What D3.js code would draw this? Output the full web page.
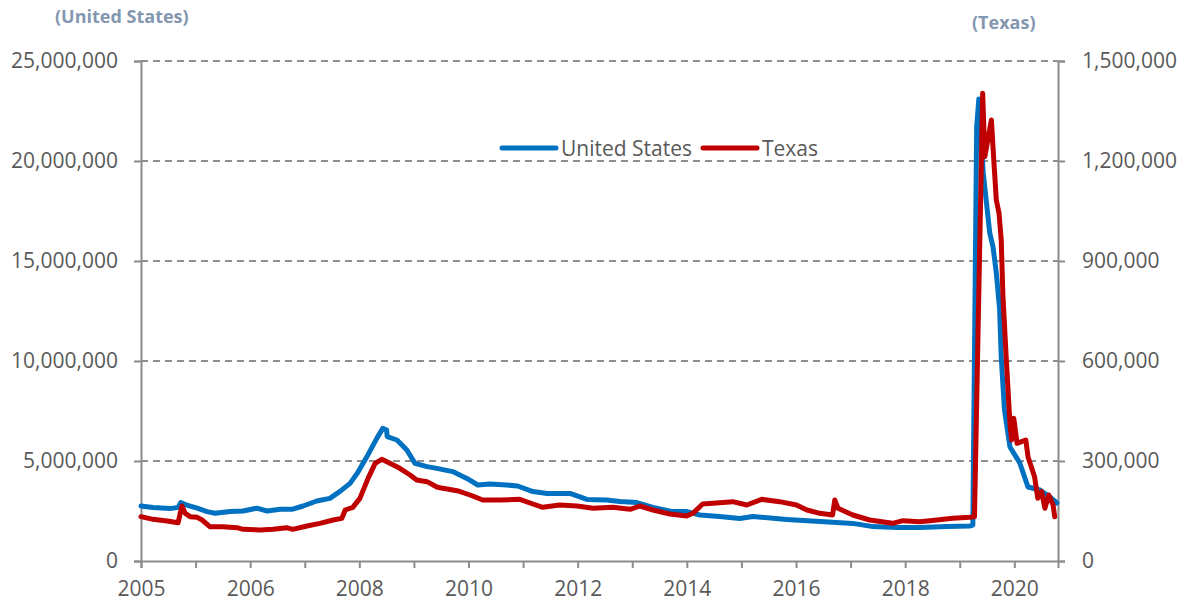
<!DOCTYPE html>
<html>
<head>
<meta charset="utf-8">
<script src="https://cdn.jsdelivr.net/npm/d3@7"></script>
<style>
  body { margin: 0; background: #fff; }
  svg { display: block; font-family: "Open Sans", sans-serif; }
  .tick text { fill: #595959; font-size: 21px; font-family: "Open Sans", sans-serif; }
  .domain, .tick line { stroke: #8c8c8c; stroke-width: 2px; }
  .grid { stroke: #8f8f8f; stroke-width: 2px; stroke-dasharray: 7,5; }
  .axis-title { fill: #8497B0; font-weight: bold; font-size: 18px; }
  .legend text { fill: #595959; font-size: 21px; }
</style>
</head>
<body>
<svg width="1191" height="606"></svg>
<script>
// continued claims (decimal years)
var usDates = [2005.00, 2005.22, 2005.53, 2005.68, 2005.73, 2005.84, 2006.03, 2006.21, 2006.36, 2006.63,
  2006.87, 2007.12, 2007.31, 2007.55, 2007.78, 2007.97, 2008.22, 2008.46, 2008.64, 2008.83,
  2008.96, 2009.14, 2009.32, 2009.43, 2009.50, 2009.51, 2009.69, 2009.87, 2010.02, 2010.24,
  2010.42, 2010.71, 2010.97, 2011.17, 2011.39, 2011.70, 2011.90, 2012.18, 2012.44, 2012.86,
  2013.17, 2013.53, 2013.77, 2014.08, 2014.38, 2014.74, 2015.00, 2015.24, 2015.60, 2015.97,
  2016.21, 2016.83, 2017.44, 2018.04, 2018.41, 2018.85, 2019.27, 2019.76, 2020.18, 2020.24,
  2020.31, 2020.35, 2020.43, 2020.49, 2020.55, 2020.61, 2020.67, 2020.73, 2020.76, 2020.82,
  2020.92, 2021.10, 2021.25, 2021.47, 2021.65, 2021.78];
var usValues = [2.75, 2.68, 2.62, 2.68, 2.92, 2.79, 2.64, 2.47, 2.39, 2.47,
  2.50, 2.64, 2.50, 2.59, 2.59, 2.75, 3.00, 3.13, 3.47, 3.88,
  4.38, 5.22, 6.13, 6.63, 6.55, 6.22, 6.05, 5.55, 4.88, 4.72,
  4.63, 4.47, 4.13, 3.80, 3.85, 3.80, 3.75, 3.47, 3.38, 3.38,
  3.08, 3.05, 2.97, 2.92, 2.68, 2.47, 2.47, 2.30, 2.22, 2.13,
  2.22, 2.08, 1.97, 1.88, 1.72, 1.68, 1.68, 1.72, 1.75, 1.80,
  21.7, 23.1, 19.4, 17.9, 16.4, 15.7, 14.4, 12.6, 10.2, 7.55,
  5.70, 4.90, 3.70, 3.55, 3.20, 2.90].map(function(v) { return v * 1e6; });

var txDates = [2005.00, 2005.22, 2005.48, 2005.68, 2005.75, 2005.81, 2005.90, 2006.03, 2006.12, 2006.26,
  2006.50, 2006.76, 2006.87, 2007.18, 2007.42, 2007.67, 2007.78, 2008.04, 2008.28, 2008.52,
  2008.68, 2008.74, 2008.88, 2009.01, 2009.16, 2009.29, 2009.41, 2009.56, 2009.74, 2009.93,
  2010.05, 2010.24, 2010.42, 2010.53, 2010.79, 2011.03, 2011.26, 2011.58, 2011.94, 2012.18,
  2012.36, 2012.67, 2012.99, 2013.28, 2013.64, 2013.96, 2014.14, 2014.38, 2014.69, 2015.00,
  2015.11, 2015.29, 2015.60, 2015.84, 2016.10, 2016.37, 2016.70, 2017.01, 2017.20, 2017.44,
  2017.67, 2017.71, 2017.77, 2018.04, 2018.35, 2018.77, 2018.96, 2019.27, 2019.58, 2019.87,
  2020.18, 2020.27, 2020.42, 2020.46, 2020.58, 2020.62, 2020.67, 2020.72, 2020.76, 2020.79,
  2020.85, 2020.92, 2020.95, 2020.99, 2021.05, 2021.21, 2021.25, 2021.37, 2021.43, 2021.50,
  2021.56, 2021.63, 2021.71, 2021.74];
var txValues = [133, 125, 120, 115, 165, 143, 133, 131, 123, 103,
  103, 100, 95, 93, 95, 100, 95, 105, 113, 123,
  128, 153, 161, 188, 248, 293, 305, 293, 278, 258,
  243, 238, 222, 218, 211, 198, 183, 183, 185, 171,
  161, 168, 165, 158, 161, 155, 165, 153, 141, 135,
  143, 171, 175, 178, 168, 185, 178, 168, 153, 143,
  138, 183, 158, 138, 123, 113, 121, 118, 123, 128,
  131, 133, 1403, 1213, 1323, 1213, 1083, 1043, 963, 800,
  613, 413, 363, 428, 353, 363, 313, 253, 188, 208,
  158, 198, 168, 133].map(function(v) { return v * 1000; });

var usTicks = [0, 5e6, 10e6, 15e6, 20e6, 25e6];
var txTicks = [0, 3e5, 6e5, 9e5, 12e5, 15e5];
var xTicks = d3.range(2005, 2022);
var xLabels = ['2005', '2006', '2008', '2010', '2012', '2014', '2016', '2018', '2020'];
var seriesNames = ['United States', 'Texas'];
var seriesColors = ['#0070C0', '#C00000'];

var svg = d3.select('svg'),
    plotLeft = 141, plotRight = 1058, plotTop = 61, plotBottom = 561;

var x = d3.scaleLinear().domain([2005, 2021.8]).range([plotLeft, plotRight]);
var yUS = d3.scaleLinear().domain([0, 25e6]).range([plotBottom, plotTop]);
var yTX = d3.scaleLinear().domain([0, 15e5]).range([plotBottom, plotTop]);
var fmt = d3.format(',');

svg.append('rect').attr('width', 1191).attr('height', 606).attr('fill', '#fff');

// dashed gridlines
svg.selectAll('.grid')
    .data(usTicks.slice(1))
    .enter()
    .append('line')
    .attr('class', 'grid')
    .attr('x1', plotLeft).attr('x2', plotRight)
    .attr('y1', function(d) { return yUS(d); })
    .attr('y2', function(d) { return yUS(d); });

svg.append('g')
    .attr('transform', 'translate(' + plotLeft + ',0)')
    .call(d3.axisLeft(yUS).tickValues(usTicks).tickFormat(fmt).tickSizeOuter(0).tickSize(7).tickPadding(16));

svg.append('g')
    .attr('transform', 'translate(' + plotRight + ',0)')
    .call(d3.axisRight(yTX).tickValues(txTicks).tickFormat(fmt).tickSizeOuter(0).tickSize(7).tickPadding(17));

svg.append('g')
    .attr('transform', 'translate(0,' + plotBottom + ')')
    .call(d3.axisBottom(x).tickValues(xTicks).tickSizeOuter(0).tickSize(7).tickPadding(13)
        .tickFormat(function(d, i) { return i % 2 === 0 ? xLabels[i / 2] : ''; }));

var usLine = d3.line()
    .x(function(d) { return x(d[0]); })
    .y(function(d) { return yUS(d[1]); });
var txLine = d3.line()
    .x(function(d) { return x(d[0]); })
    .y(function(d) { return yTX(d[1]); });

svg.append('path')
    .datum(d3.zip(usDates, usValues))
    .attr('d', usLine)
    .attr('fill', 'none')
    .attr('stroke', seriesColors[0])
    .attr('stroke-width', 5)
    .attr('stroke-linejoin', 'round')
    .attr('stroke-linecap', 'round');

svg.append('path')
    .datum(d3.zip(txDates, txValues))
    .attr('d', txLine)
    .attr('fill', 'none')
    .attr('stroke', seriesColors[1])
    .attr('stroke-width', 5)
    .attr('stroke-linejoin', 'round')
    .attr('stroke-linecap', 'round');

// axis titles
svg.append('text').attr('class', 'axis-title').attr('x', 55).attr('y', 23).text('(United States)');
svg.append('text').attr('class', 'axis-title').attr('x', 972).attr('y', 29).text('(Texas)');

// legend
var legend = svg.append('g').attr('class', 'legend');
var legendX = [502, 703];
seriesNames.forEach(function(name, i) {
    legend.append('line')
        .attr('x1', legendX[i]).attr('x2', legendX[i] + 54)
        .attr('y1', 148).attr('y2', 148)
        .attr('stroke', seriesColors[i])
        .attr('stroke-width', 5)
        .attr('stroke-linecap', 'round');
    legend.append('text')
        .attr('x', legendX[i] + 59).attr('y', 156)
        .text(name);
});
</script>
</body>
</html>
